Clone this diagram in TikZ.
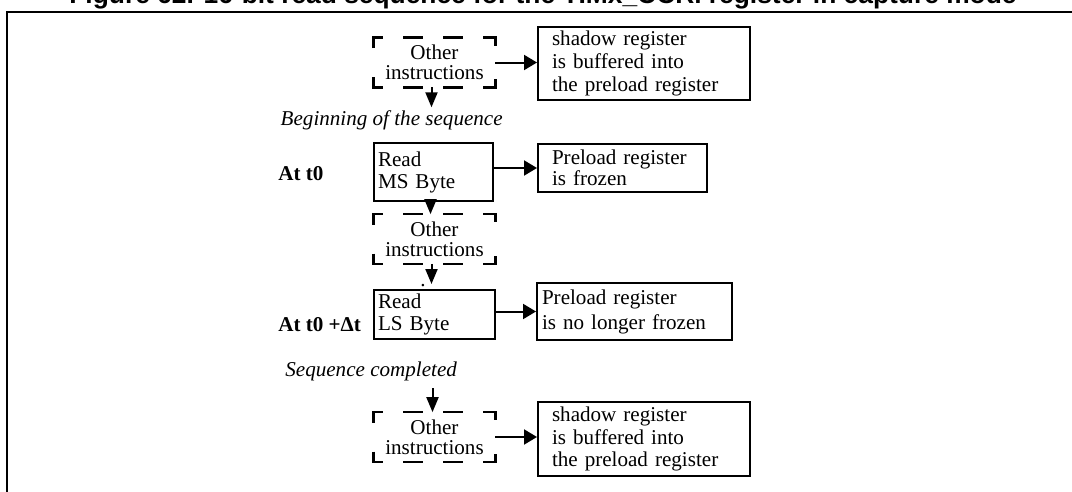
\documentclass[tikz,border=0pt]{standalone}
\usepackage{fontspec}
\setmainfont{Liberation Serif}
\newfontfamily\titlefont{Liberation Sans}
\usetikzlibrary{arrows.meta}
\newcommand{\otherframe}[1]{%
  \draw[cornerdash] (#1.west) -- (#1.north west) -- (#1.north east) -- (#1.east);
  \draw[cornerdash] (#1.west) -- (#1.south west) -- (#1.south east) -- (#1.east);}

\begin{document}
\begin{tikzpicture}[
  every node/.style={font=\fontsize{12pt}{12.5pt}\selectfont},
  regbox/.style={draw=black,line width=0.04cm,align=left,inner ysep=0pt},
  instr/.style={align=center,inner sep=0pt,minimum width=2.42cm,minimum height=0.98cm,
                font=\fontsize{12pt}{11.4pt}\selectfont},
  cornerdash/.style={line width=0.05cm,dash pattern=on 0.4cm off 0.4cm,dash phase=0.51cm},
  harrow/.style={-{Triangle[length=0.26cm,width=0.3cm]},line width=0.04cm},
  varrow/.style={-{Triangle[length=0.3cm,width=0.24cm]},line width=0.04cm},
  side/.style={font=\fontsize{12pt}{12.5pt}\selectfont\bfseries,inner sep=0pt},
  phase/.style={font=\fontsize{12pt}{12.5pt}\selectfont\itshape,inner sep=0pt}
]
\useasboundingbox (0,0) rectangle (21.44,-9.84);
\node[font=\titlefont\fontsize{15pt}{16pt}\selectfont\bfseries,anchor=base,inner sep=0pt] (title) at (10.86,-0.07)
  {Figure 62. 16-bit read sequence for the TIMx\_CCRi register in capture mode};
\draw[line width=0.04cm] (0.13,-10.5) -- (0.13,-0.24) -- (22,-0.24);

\node[instr] (oth1) at (8.69,-1.25) {Other\\instructions};
\node[regbox,text width=3.68cm,inner xsep=0.28cm,minimum height=1.46cm,
      font=\fontsize{12pt}{13pt}\selectfont] (shd1) at (12.88,-1.27)
  {shadow register\\is buffered into\\the preload register};
\node[phase,anchor=base east] (begin) at (10.06,-2.5) {Beginning of the sequence};

\node[side,anchor=base west] (att0) at (5.56,-3.6) {At t0};
\node[regbox,text width=2.22cm,inner xsep=0.08cm,minimum height=1.16cm] (ms) at (8.67,-3.44) {Read\\MS Byte};
\node[regbox,text width=2.82cm,inner xsep=0.28cm,minimum height=0.96cm,
      font=\fontsize{12pt}{12pt}\selectfont] (frz) at (12.45,-3.36) {Preload register\\is frozen};

\node[instr] (oth2) at (8.69,-4.78) {Other\\instructions};
\node[inner sep=0pt] (dot) at (8.46,-5.72) {.};

\node[side,anchor=base west] (attd) at (5.56,-6.62) {At t0 +Δt};
\node[regbox,text width=2.26cm,inner xsep=0.08cm,minimum height=0.98cm,
      font=\fontsize{12pt}{13pt}\selectfont] (ls) at (8.69,-6.29) {Read\\LS Byte};
\node[regbox,text width=3.70cm,inner xsep=0.10cm,minimum height=1.14cm,
      font=\fontsize{12pt}{14.2pt}\selectfont] (nfz) at (12.69,-6.23) {Preload register\\is no longer frozen};

\node[phase,anchor=base west] (seq) at (5.70,-7.52) {Sequence completed};
\node[instr] (oth3) at (8.69,-8.74) {Other\\instructions};
\node[regbox,text width=3.68cm,inner xsep=0.28cm,minimum height=1.48cm,
      font=\fontsize{12pt}{13pt}\selectfont] (shd3) at (12.88,-8.78)
  {shadow register\\is buffered into\\the preload register};

\otherframe{oth1}
\otherframe{oth2}
\otherframe{oth3}

\draw[harrow] (oth1.east) -- (oth1.east -| shd1.west);
\draw[varrow] ([xshift=-0.06cm]oth1.south) -- ([xshift=-0.06cm,yshift=0.05cm]oth1.south |- begin.north);
\draw[harrow] (ms.east |- frz.west) -- (frz.west);
\draw[varrow] ([xshift=-0.06cm]ms.south) -- ([xshift=-0.06cm]ms.south |- oth2.north);
\draw[varrow] ([xshift=-0.06cm]oth2.south) -- ([xshift=-0.06cm,yshift=0.1cm]oth2.south |- ls.north);
\draw[harrow] (ls.east |- nfz.west) -- (nfz.west);
\draw[varrow,shorten <=0.15cm] ([xshift=-0.04cm]oth3.north |- seq.south) -- ([xshift=-0.04cm]oth3.north);
\draw[harrow] (oth3.east) -- (oth3.east -| shd3.west);
\end{tikzpicture}
\end{document}
